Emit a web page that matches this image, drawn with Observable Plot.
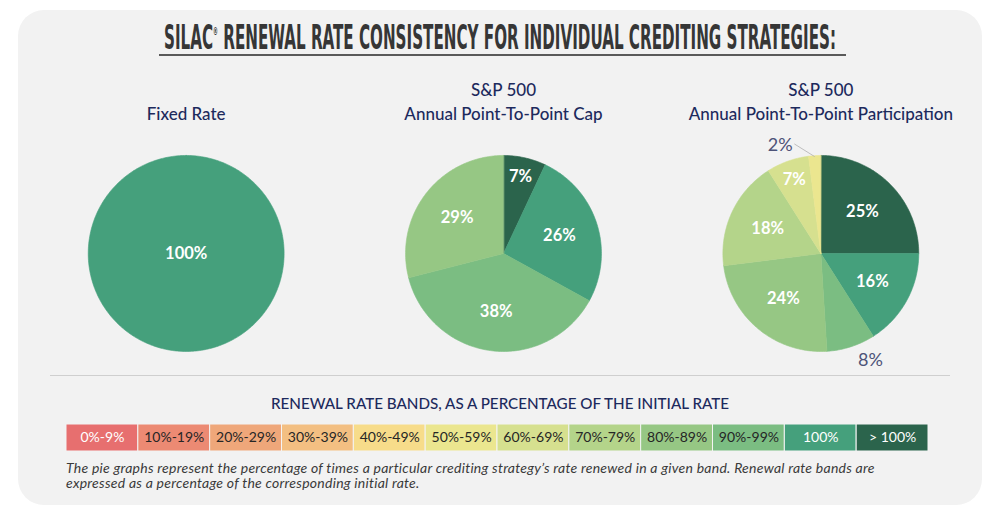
<!DOCTYPE html>
<html>
<head>
<meta charset="utf-8">
<script src="https://cdn.jsdelivr.net/npm/d3@7"></script>
<script src="https://cdn.jsdelivr.net/npm/@observablehq/plot@0.6"></script>
<style>
  body { margin: 0; background: #fff; }
  #page { position: relative; width: 1000px; height: 521px; overflow: hidden; font-family: Lato, "Noto Sans", sans-serif; }
  #card { position: absolute; left: 18px; top: 10px; width: 964px; height: 495px; background: #f2f2f2; border-radius: 26px; }
  #title { position: absolute; left: 0; top: 22px; width: 1000px; height: 31px; line-height: 31px; white-space: nowrap; }
  #title span { position: absolute; left: 500px; top: 0; font-family: "Liberation Sans Narrow", "DejaVu Sans Condensed", sans-serif; font-weight: bold; font-size: 34px; color: #363636; transform-origin: 0 0; }
  #title sup { font-size: 11px; position: relative; top: -14px; vertical-align: baseline; }
  #underline { position: absolute; left: 159px; top: 54px; width: 687px; height: 2px; background: #5a5a5a; }
  #pies { position: absolute; left: 0; top: 70px; }
  #sep { position: absolute; left: 50px; top: 375px; width: 900px; height: 1px; background: #cfcfcf; }
  #legend-title { position: absolute; left: 0; top: 394px; width: 1000px; text-align: center; font-size: 15.2px; font-weight: 500; line-height: 18px; color: #1d2a5d; }
  #legend { position: absolute; left: 0; top: 424px; }
  #caption { position: absolute; left: 66px; top: 460px; width: 830px; font-size: 14px; letter-spacing: 0.25px; line-height: 15px; font-style: italic; color: #3a3a3a; }
</style>
</head>
<body>
<div id="page">
  <div id="card"></div>
  <div id="title"><span>SILAC<sup>®</sup> RENEWAL RATE CONSISTENCY FOR INDIVIDUAL CREDITING STRATEGIES:</span></div>
  <div id="underline"></div>
  <div id="pies"></div>
  <div id="sep"></div>
  <div id="legend-title">RENEWAL RATE BANDS, AS A PERCENTAGE OF THE INITIAL RATE</div>
  <div id="legend"></div>
  <div id="caption">The pie graphs represent the percentage of times a particular crediting strategy’s rate renewed in a given band. Renewal rate bands are expressed as a percentage of the corresponding initial rate.</div>
</div>
<script>
// renewal rate bands and their colours
const bands = ["0%-9%", "10%-19%", "20%-29%", "30%-39%", "40%-49%", "50%-59%", "60%-69%", "70%-79%", "80%-89%", "90%-99%", "100%", "> 100%"];
const bandColors = ["#e76f6f", "#ec8a73", "#efa77a", "#f3bf82", "#f7dc8a", "#ebe68f", "#d6e08f", "#b4d48a", "#96c784", "#7bbd82", "#45a07c", "#2b644c"];
const whiteTextBands = ["0%-9%", "100%", "> 100%"];

// the three crediting strategies
const strategies = ["Fixed Rate", "S&P 500 Annual Point-To-Point Cap", "S&P 500 Annual Point-To-Point Participation"];
const strategyTitles = ["Fixed Rate", "S&P 500\nAnnual Point-To-Point Cap", "S&P 500\nAnnual Point-To-Point Participation"];

// pie slices, clockwise from 12 o'clock
const fixedBands = ["100%"];
const fixedShares = [100];
const capBands = ["> 100%", "100%", "90%-99%", "80%-89%"];
const capShares = [7, 26, 38, 29];
const participationBands = ["> 100%", "100%", "90%-99%", "80%-89%", "70%-79%", "60%-69%", "50%-59%"];
const participationShares = [25, 16, 8, 24, 18, 7, 2];

// labels that sit outside their slice (radius and angle nudge in degrees)
const outsideLabels = [
  {strategy: strategies[2], band: "90%-99%", r: 1.2, shift: -7, leader: false},
  {strategy: strategies[2], band: "50%-59%", r: 1.18, shift: -17, leader: true}
];

const pieSets = [
  {strategy: strategies[0], bands: fixedBands, shares: fixedShares},
  {strategy: strategies[1], bands: capBands, shares: capShares},
  {strategy: strategies[2], bands: participationBands, shares: participationShares}
];

// build slices with start / end angles
const slices = [];
pieSets.forEach(set => {
  const total = d3.sum(set.shares);
  let acc = 0;
  set.shares.forEach((v, i) => {
    const a0 = acc / total * 2 * Math.PI;
    acc += v;
    const a1 = acc / total * 2 * Math.PI;
    slices.push({strategy: set.strategy, band: set.bands[i], share: v, full: v === total, a0, a1});
  });
});

// wedge outlines as polygons (x = sin, y = cos so angles run clockwise from top)
const wedgePoints = [];
slices.forEach(s => {
  const id = s.strategy + "|" + s.band;
  if (!s.full) wedgePoints.push({id, strategy: s.strategy, band: s.band, x: 0, y: 0});
  const n = Math.max(2, Math.ceil((s.a1 - s.a0) / (Math.PI / 180)));
  for (let i = 0; i <= n; i++) {
    const a = s.a0 + (s.a1 - s.a0) * i / n;
    wedgePoints.push({id, strategy: s.strategy, band: s.band, x: Math.sin(a), y: Math.cos(a)});
  }
});

// slice labels
const labels = slices.map(s => {
  const out = outsideLabels.find(o => o.strategy === s.strategy && o.band === s.band);
  const mid = (s.a0 + s.a1) / 2;
  let r = s.full ? 0 : (s.share < 10 ? 0.8 : 0.6);
  let a = mid;
  if (out) { r = out.r; a = mid + out.shift * Math.PI / 180; }
  return {strategy: s.strategy, text: s.share + "%", x: r * Math.sin(a), y: r * Math.cos(a), outside: !!out,
          leader: out && out.leader, mid};
});
const leaders = labels.filter(d => d.leader).map(d => ({
  strategy: d.strategy,
  x1: 0.99 * Math.sin(d.mid), y1: 0.99 * Math.cos(d.mid),
  x2: 1.15 * Math.sin(d.mid - 10 * Math.PI / 180), y2: 1.15 * Math.cos(d.mid - 10 * Math.PI / 180)
}));

const titles = strategies.map((s, i) => ({strategy: s, title: strategyTitles[i]}));

const colorScale = {type: "ordinal", domain: bands, range: bandColors};

////////////////////////////////
//        PIES
////////////////////////////////
const piePlot = Plot.plot({
  width: 1000,
  height: 300,
  marginLeft: 27,
  marginRight: 21,
  marginTop: 0,
  marginBottom: 0,
  style: {background: "transparent", fontFamily: "Lato, 'Noto Sans', sans-serif"},
  fx: {domain: strategies, axis: null, padding: 0, round: false},
  x: {domain: [-1.62, 1.62], axis: null},
  y: {domain: [-1.194, 1.867], axis: null},
  color: colorScale,
  marks: [
    Plot.line(wedgePoints, {x: "x", y: "y", z: "id", fx: "strategy", fill: "band", stroke: "band", strokeWidth: 0.6, curve: "linear-closed"}),
    Plot.link(leaders, {x1: "x1", y1: "y1", x2: "x2", y2: "y2", fx: "strategy", stroke: "#b0b0b0", strokeWidth: 0.8}),
    Plot.text(labels.filter(d => !d.outside), {x: "x", y: "y", fx: "strategy", text: "text", fill: "white", fontSize: 16.5, fontWeight: "bold"}),
    Plot.text(labels.filter(d => d.outside), {x: "x", y: "y", fx: "strategy", text: "text", fill: "#4d5378", fontSize: 18}),
    Plot.text(titles, {fx: "strategy", text: "title", frameAnchor: "top", lineAnchor: "bottom", dy: 49, lineHeight: 1.4, fontSize: 17, fontWeight: 500, fill: "#1d2a5d"})
  ]
});
document.querySelector("#pies").append(piePlot);

////////////////////////////////
//        LEGEND
////////////////////////////////
const legendPlot = Plot.plot({
  width: 1000,
  height: 27,
  marginLeft: 66,
  marginRight: 72,
  marginTop: 0,
  marginBottom: 0,
  style: {background: "transparent", fontFamily: "Lato, 'Noto Sans', sans-serif"},
  x: {domain: bands, axis: null, padding: 0, round: false},
  color: colorScale,
  marks: [
    Plot.cell(bands, {x: d => d, fill: d => d, stroke: "#f4f4f4", strokeWidth: 1}),
    Plot.text(bands.filter(b => !whiteTextBands.includes(b)), {x: d => d, text: d => d, fill: "#262626", fontSize: 14}),
    Plot.text(bands.filter(b => whiteTextBands.includes(b)), {x: d => d, text: d => d, fill: "white", fontSize: 14})
  ]
});
document.querySelector("#legend").append(legendPlot);

// squeeze the title into its condensed width, centred on the page
const titleSpan = document.querySelector("#title span");
const w = titleSpan.getBoundingClientRect().width;
titleSpan.style.transform = `scaleX(${672 / w}) translateX(-50%)`;
</script>
</body>
</html>
